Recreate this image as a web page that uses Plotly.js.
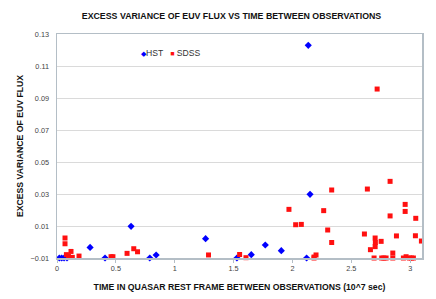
<!DOCTYPE html>
<html>
<head>
<meta charset="utf-8">
<script src="https://cdn.plot.ly/plotly-3.0.1.min.js"></script>
<style>html,body{margin:0;padding:0;background:#fff;}#chart{width:436px;height:299px;}</style>
</head>
<body>
<div id="chart"></div>
<script>
// HST series (time in 10^7 sec, excess variance)
const hstX = [0.02, 0.04, 0.06, 0.085, 0.281, 0.408, 0.629, 0.788, 0.842, 1.262, 1.528, 1.65, 1.769, 1.905, 2.12, 2.134, 2.149];
const hstY = [-0.01, -0.01, -0.01, -0.01, -0.0034, -0.01, 0.0098, -0.01, -0.0081, 0.0021, -0.01, -0.0079, -0.0019, -0.0054, -0.01, 0.1229, 0.0298];

// SDSS series
const sdssX = [0.068, 0.068, 0.119, 0.08, 0.097, 0.13, 0.187, 0.459, 0.475, 0.595, 0.652, 0.684, 1.287, 1.551, 1.605, 1.970, 2.027, 2.075, 2.265, 2.299, 2.333, 2.333, 2.183, 2.2, 2.183, 2.719, 2.829, 2.636, 2.957, 2.957, 2.829, 3.047, 2.611, 2.883, 3.044, 2.702, 3.095, 2.704, 2.753, 2.702, 2.662, 2.852, 2.693, 2.758, 2.776, 2.795, 2.852, 2.942, 2.965, 2.993, 3.01, 3.027];
const sdssY = [0.0025, -0.0011, -0.0059, -0.0079, -0.009, -0.0096, -0.0088, -0.0092, -0.0092, -0.0071, -0.0042, -0.0061, -0.0081, -0.0078, -0.0098, 0.0204, 0.0108, 0.011, 0.0196, 0.0075, 0.0325, -0.0003, -0.0094, -0.0081, -0.01, 0.0956, 0.0379, 0.0331, 0.0235, 0.0191, 0.0163, 0.0148, 0.005, 0.0038, 0.0039, 0.0025, 0.0006, -0.0003, 0.0004, -0.0029, -0.0048, -0.0069, -0.01, -0.01, -0.01, -0.01, -0.01, -0.01, -0.0092, -0.01, -0.01, -0.01];

const seriesNames = ["HST", "SDSS"];
const titleText = "EXCESS VARIANCE OF EUV FLUX VS TIME BETWEEN OBSERVATIONS";
const xTitle = "TIME IN QUASAR REST FRAME BETWEEN OBSERVATIONS (10^7 sec)";
const yTitle = "EXCESS VARIANCE OF EUV FLUX";

const font = "Liberation Sans, Arial, sans-serif";

const traces = [
  {x: hstX, y: hstY, name: seriesNames[0], type: "scatter", mode: "markers", cliponaxis: false,
   marker: {symbol: "diamond", size: 5.5, color: "#0000ff"}},
  {x: sdssX, y: sdssY, name: seriesNames[1], type: "scatter", mode: "markers", cliponaxis: false,
   marker: {symbol: "square", size: 5, color: "#ff1010"}}
];

const layout = {
  width: 436, height: 299,
  margin: {l: 57, r: 14, t: 34, b: 41, pad: 0},
  paper_bgcolor: "#ffffff", plot_bgcolor: "#ffffff",
  showlegend: false,
  font: {family: font, size: 7, color: "#444"},
  title: {text: "<b>" + titleText + "</b>", font: {family: font, size: 8.8, color: "#111"},
          x: 0.531, xref: "container", xanchor: "center", y: 0.946, yref: "container", yanchor: "middle"},
  xaxis: {
    range: [0, 3.1], dtick: 0.5, tick0: 0, showgrid: false, zeroline: false,
    showline: true, linecolor: "#b4bec6", linewidth: 1.5, mirror: true,
    ticks: "outside", ticklen: 3, tickcolor: "#b4bec6",
    tickfont: {family: font, size: 7.3, color: "#444"},
    title: {text: "<b>" + xTitle + "</b>", font: {family: font, size: 8.7, color: "#111"}, standoff: 11}
  },
  yaxis: {
    range: [-0.01, 0.13], tick0: -0.01, dtick: 0.02, tickformat: ".2f",
    showgrid: true, gridcolor: "#dadada", gridwidth: 1, zeroline: false,
    showline: true, linecolor: "#b4bec6", linewidth: 1.5, mirror: true,
    ticks: "", ticklabelstandoff: 5,
    tickfont: {family: font, size: 7.3, color: "#444"},
    title: {text: "<b>" + yTitle + "</b>", font: {family: font, size: 8.7, color: "#111"}, standoff: 5}
  },
  annotations: [
    {xref: "paper", yref: "paper", x: (138.5 - 57) / 365, y: (258.3 - 53) / 224, xanchor: "left", yanchor: "middle",
     showarrow: false, font: {family: font, size: 8.6, color: "#333"},
     text: "<span style='color:#0000ff;font-size:6.5px'>◆</span>" + seriesNames[0] + "   <span style='color:#ff1010;font-size:7px'>■</span> " + seriesNames[1]}
  ]
};

Plotly.newPlot("chart", traces, layout, {displayModeBar: false, staticPlot: true});
</script>
</body>
</html>
